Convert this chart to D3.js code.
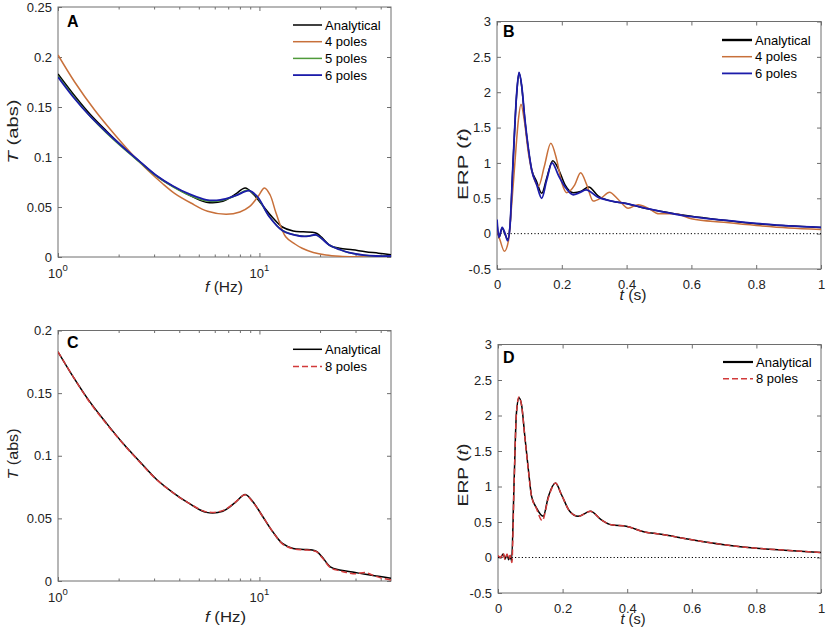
<!DOCTYPE html>
<html>
<head>
<meta charset="utf-8">
<script src="https://cdn.jsdelivr.net/npm/d3@7"></script>
<style>
  body { margin: 0; background: #fff; }
  svg { display: block; font-family: "Liberation Sans", Arial, sans-serif; }
</style>
</head>
<body>
<svg id="fig" width="829" height="631"></svg>
<script>
// ---- DATA ----

// panel A / C : transfer function magnitude vs frequency (Hz)
const fAnalytic = [1, 1.19, 1.44, 1.74, 2.1, 2.55, 3.08, 3.72, 4.5, 5.45, 6.58, 7.6, 8.5, 9.3, 10.4, 11.65, 13.0, 14.7, 16.5, 18.3, 19.3, 20.6, 22.6, 25, 29, 33.6, 39, 45];
const tAnalytic = [0.183, 0.163, 0.143, 0.126, 0.110, 0.0952, 0.0812, 0.0706, 0.0617, 0.0548, 0.0557, 0.0628, 0.069, 0.063, 0.0513, 0.0393, 0.030, 0.026, 0.0252, 0.0248, 0.0235, 0.0187, 0.011, 0.0088, 0.0072, 0.0053, 0.0038, 0.0022];

const fPoles4 = [1, 1.21, 1.52, 1.92, 2.4, 2.8, 3.3, 3.79, 4.57, 5.53, 6.84, 8.0, 8.92, 9.8, 10.6, 11.3, 12.1, 13.5, 15, 16.3, 18.5, 21.4, 25, 30, 45];
const tPoles4 = [0.202, 0.175, 0.147, 0.122, 0.100, 0.0865, 0.0735, 0.0637, 0.054, 0.0457, 0.0427, 0.045, 0.0503, 0.06, 0.069, 0.062, 0.0437, 0.0203, 0.013, 0.0087, 0.0045, 0.002, 0.0008, 0.0003, 0.0001];

const fPoles5 = [1, 1.19, 1.44, 1.74, 2.1, 2.55, 3.08, 3.72, 4.5, 5.45, 6.4, 7.6, 8.7, 9.6, 11.2, 13.0, 15.8, 17.5, 19.1, 20.5, 22.2, 25, 27.9, 33, 38, 45];
const tPoles5 = [0.181, 0.161, 0.141, 0.124, 0.109, 0.0946, 0.0808, 0.0702, 0.0617, 0.056, 0.0562, 0.0612, 0.0668, 0.0615, 0.0405, 0.0265, 0.0212, 0.021, 0.022, 0.018, 0.012, 0.0075, 0.0043, 0.0018, 0.001, 0.001];

const fPoles6 = [1, 1.19, 1.44, 1.74, 2.1, 2.55, 3.08, 3.72, 4.5, 5.45, 6.4, 7.6, 8.9, 9.8, 11.2, 13.0, 15.8, 17.5, 19.1, 20.5, 22.2, 25, 27.9, 33, 38, 45];
const tPoles6 = [0.180, 0.160, 0.141, 0.125, 0.110, 0.0954, 0.0815, 0.071, 0.0628, 0.0572, 0.0572, 0.0613, 0.0663, 0.06, 0.0403, 0.0265, 0.021, 0.0208, 0.0222, 0.018, 0.012, 0.0075, 0.0043, 0.0018, 0.001, 0.001];

const fPoles8 = [1, 1.19, 1.44, 1.74, 2.1, 2.55, 3.08, 3.72, 4.5, 5.45, 6.58, 7.6, 8.5, 9.3, 10.4, 11.65, 13.0, 14.7, 16.5, 18.3, 19.3, 20.6, 22.6, 25, 27, 30, 33.6, 36, 40, 45];
const tPoles8 = [0.183, 0.163, 0.1425, 0.1255, 0.1097, 0.0948, 0.0811, 0.0705, 0.0618, 0.0552, 0.0562, 0.063, 0.0688, 0.0628, 0.0513, 0.0393, 0.0297, 0.0257, 0.0248, 0.0244, 0.0232, 0.0182, 0.0105, 0.0082, 0.0068, 0.0058, 0.0068, 0.005, 0.0025, 0.0008];

// panel B : ERP vs time (s)
const tsAnalyticB = [0, 0.006, 0.016, 0.025, 0.033, 0.04, 0.05, 0.061, 0.068, 0.076, 0.086, 0.097, 0.107, 0.122, 0.138, 0.153, 0.172, 0.19, 0.21, 0.236, 0.26, 0.283, 0.313, 0.354, 0.405, 0.457, 0.5, 0.6, 0.7, 0.8, 0.9, 1.0];
const erpAnalyticB = [0.15, -0.06, 0.08, -0.01, -0.08, 0.1, 1.05, 1.99, 2.27, 2.09, 1.61, 1.19, 0.91, 0.74, 0.57, 0.78, 1.03, 0.91, 0.69, 0.58, 0.6, 0.66, 0.53, 0.46, 0.42, 0.36, 0.32, 0.245, 0.19, 0.14, 0.11, 0.085];

const tsPoles4B = [0, 0.009, 0.023, 0.035, 0.045, 0.056, 0.066, 0.074, 0.084, 0.097, 0.112, 0.128, 0.146, 0.166, 0.184, 0.2, 0.215, 0.24, 0.258, 0.277, 0.297, 0.323, 0.347, 0.375, 0.405, 0.436, 0.47, 0.5, 0.55, 0.6, 0.7, 0.8, 0.9, 1.0];
const erpPoles4B = [0.05, -0.085, -0.25, -0.11, 0.39, 1.05, 1.61, 1.83, 1.61, 1.14, 0.81, 0.67, 0.95, 1.28, 1.05, 0.72, 0.58, 0.69, 0.86, 0.69, 0.46, 0.51, 0.585, 0.48, 0.36, 0.41, 0.35, 0.28, 0.28, 0.21, 0.16, 0.115, 0.08, 0.06];

const tsPoles6B = [0, 0.006, 0.016, 0.025, 0.033, 0.04, 0.05, 0.061, 0.068, 0.076, 0.086, 0.097, 0.107, 0.122, 0.138, 0.153, 0.17, 0.19, 0.21, 0.235, 0.255, 0.275, 0.31, 0.354, 0.405, 0.457, 0.5, 0.6, 0.7, 0.8, 0.9, 1.0];
const erpPoles6B = [0.2, -0.05, 0.09, 0.0, -0.1, 0.1, 1.05, 2.0, 2.28, 2.1, 1.62, 1.2, 0.9, 0.7, 0.5, 0.75, 1.0, 0.82, 0.66, 0.55, 0.58, 0.62, 0.52, 0.46, 0.42, 0.36, 0.32, 0.24, 0.19, 0.145, 0.11, 0.09];

// panel D : ERP vs time (s)
const tsAnalyticD = [0, 0.008, 0.016, 0.022, 0.028, 0.033, 0.037, 0.042, 0.05, 0.057, 0.065, 0.073, 0.083, 0.094, 0.104, 0.119, 0.14, 0.156, 0.178, 0.197, 0.222, 0.248, 0.286, 0.32, 0.351, 0.397, 0.454, 0.5, 0.6, 0.7, 0.8, 0.9, 1.0];
const erpAnalyticD = [0.01, 0.0, 0.05, -0.02, 0.04, -0.03, 0.02, -0.04, 1.09, 2.03, 2.25, 2.15, 1.71, 1.24, 0.86, 0.7, 0.58, 0.86, 1.05, 0.88, 0.65, 0.58, 0.65, 0.53, 0.46, 0.44, 0.36, 0.33, 0.25, 0.18, 0.13, 0.1, 0.07];

const tsPoles8D = [0, 0.008, 0.016, 0.022, 0.028, 0.033, 0.038, 0.043, 0.05, 0.057, 0.065, 0.073, 0.083, 0.094, 0.104, 0.119, 0.137, 0.156, 0.178, 0.197, 0.222, 0.248, 0.286, 0.32, 0.351, 0.397, 0.454, 0.5, 0.6, 0.7, 0.8, 0.9, 1.0];
const erpPoles8D = [0.03, 0.0, 0.06, -0.03, 0.05, -0.02, 0.03, -0.07, 1.06, 2.02, 2.26, 2.14, 1.7, 1.23, 0.86, 0.69, 0.52, 0.84, 1.05, 0.88, 0.65, 0.58, 0.65, 0.53, 0.46, 0.44, 0.36, 0.33, 0.25, 0.18, 0.13, 0.1, 0.07];

// ticks
const freqTicks = [1, 10];
const freqMinor = [2, 3, 4, 5, 6, 7, 8, 9, 20, 30, 40];
const tAbsTicksAB = [0, 0.05, 0.1, 0.15, 0.2, 0.25];
const tAbsTicksC = [0, 0.05, 0.1, 0.15, 0.2];
const timeTicks = [0, 0.2, 0.4, 0.6, 0.8, 1];
const erpTicks = [-0.5, 0, 0.5, 1, 1.5, 2, 2.5, 3];

// ---- SETUP ----
const svg = d3.select("#fig");
const axisGray = "#6e6e6e";
const textCol = "#222";

// colours of the series
const cBlack = "#000000",
  cOrange = "#c8703a",
  cGreen = "#4f9a3a",
  cBlue = "#1c1caa",
  cRed = "#d23a3a";

// squeeze/stretch a label along its reading direction to a given length
function fitLabel(text, cx, cy, length, rotate) {
  const w = text.node().getBBox().width;
  const s = length / w;
  text.attr(
    "transform",
    `translate(${cx},${cy}) ${rotate ? "rotate(-90)" : ""} scale(${s},1)`
  );
}

function drawPanel(p) {
  const x = (p.log ? d3.scaleLog() : d3.scaleLinear())
    .domain(p.xDomain)
    .range([p.left, p.right]);
  const y = d3.scaleLinear().domain(p.yDomain).range([p.bottom, p.top]);

  const g = svg.append("g");

  svg
    .append("clipPath")
    .attr("id", "clip-" + p.id)
    .append("rect")
    .attr("x", p.left)
    .attr("y", p.top)
    .attr("width", p.right - p.left)
    .attr("height", p.bottom - p.top);

  // axes (ticks inside, on all four sides)
  const styleAxis = (sel) => {
    sel.select(".domain").remove();
    sel.selectAll("line").attr("stroke", axisGray);
    sel
      .selectAll("text")
      .attr("fill", textCol)
      .style("font-size", "13px")
      .style("font-family", '"Liberation Sans", Arial, sans-serif');
  };

  g.append("g")
    .attr("transform", `translate(0,${p.bottom})`)
    .call(
      d3
        .axisBottom(x)
        .tickValues(p.xTicks)
        .tickSize(-4)
        .tickSizeOuter(0)
        .tickPadding(11)
        .tickFormat(p.log ? () => "" : (d) => String(d))
    )
    .call(styleAxis);
  g.append("g")
    .attr("transform", `translate(0,${p.top})`)
    .call(d3.axisTop(x).tickValues(p.xTicks).tickSize(-4).tickSizeOuter(0).tickFormat(() => ""))
    .call(styleAxis);
  g.append("g")
    .attr("transform", `translate(${p.left},0)`)
    .call(
      d3
        .axisLeft(y)
        .tickValues(p.yTicks)
        .tickSize(-4)
        .tickSizeOuter(0)
        .tickPadding(6)
        .tickFormat((d) => String(d))
    )
    .call(styleAxis);
  g.append("g")
    .attr("transform", `translate(${p.right},0)`)
    .call(d3.axisRight(y).tickValues(p.yTicks).tickSize(-4).tickSizeOuter(0).tickFormat(() => ""))
    .call(styleAxis);

  if (p.log) {
    // minor ticks
    g.append("g")
      .attr("transform", `translate(0,${p.bottom})`)
      .call(d3.axisBottom(x).tickValues(freqMinor).tickSize(-2.5).tickFormat(() => ""))
      .call(styleAxis);
    g.append("g")
      .attr("transform", `translate(0,${p.top})`)
      .call(d3.axisTop(x).tickValues(freqMinor).tickSize(-2.5).tickFormat(() => ""))
      .call(styleAxis);

    // 10^n labels
    const lab = g
      .selectAll(".loglab")
      .data(p.xTicks)
      .enter()
      .append("text")
      .attr("class", "loglab")
      .attr("x", (d) => x(d))
      .attr("y", p.bottom + 21)
      .attr("text-anchor", "middle")
      .attr("fill", textCol)
      .style("font-size", "13px");
    lab.append("tspan").text("10");
    lab
      .append("tspan")
      .attr("dy", -7)
      .style("font-size", "9.5px")
      .text((d) => String(Math.round(Math.log10(d))));
  }

  // box
  g.append("rect")
    .attr("x", p.left)
    .attr("y", p.top)
    .attr("width", p.right - p.left)
    .attr("height", p.bottom - p.top)
    .attr("fill", "none")
    .attr("stroke", axisGray)
    .attr("stroke-width", 1);

  const plot = g.append("g").attr("clip-path", `url(#clip-${p.id})`);

  if (p.zeroLine) {
    plot
      .append("line")
      .attr("x1", x(p.xDomain[0]))
      .attr("x2", x(p.xDomain[1]))
      .attr("y1", y(0))
      .attr("y2", y(0))
      .attr("stroke", "#000")
      .attr("stroke-width", 1)
      .attr("stroke-dasharray", "1.2,2.2");
  }

  const line = d3
    .line()
    .x((d) => x(d[0]))
    .y((d) => y(d[1]))
    .curve(p.log ? d3.curveCatmullRom.alpha(0.5) : d3.curveMonotoneX);

  p.series.forEach((s) => {
    plot
      .append("path")
      .datum(d3.zip(s.xs, s.ys))
      .attr("d", line)
      .attr("fill", "none")
      .attr("stroke", s.color)
      .attr("stroke-width", s.width)
      .attr("stroke-dasharray", s.dash || null)
      .attr("stroke-linejoin", "round");
  });

  // legend
  p.series.forEach((s, i) => {
    const ly = p.legend.y + i * p.legend.dy;
    g.append("line")
      .attr("x1", p.legend.x1)
      .attr("x2", p.legend.x2)
      .attr("y1", ly)
      .attr("y2", ly)
      .attr("stroke", s.color)
      .attr("stroke-width", s.legendWidth || s.width)
      .attr("stroke-dasharray", s.dash || null);
    g.append("text")
      .attr("x", p.legend.x2 + 3)
      .attr("y", ly)
      .attr("dy", "0.35em")
      .attr("fill", "#000")
      .style("font-size", "13px")
      .text(s.name);
  });

  // panel letter
  g.append("text")
    .attr("x", p.letter.x)
    .attr("y", p.letter.y)
    .attr("fill", "#000")
    .style("font-size", "16px")
    .style("font-weight", "bold")
    .text(p.id);

  // axis titles
  const xl = g
    .append("text")
    .attr("text-anchor", "middle")
    .attr("fill", textCol)
    .style("font-size", "14px");
  p.xLabel.parts.forEach((pt) => {
    xl.append("tspan").style("font-style", pt.it ? "italic" : "normal").text(pt.t);
  });
  fitLabel(xl, p.xLabel.cx, p.xLabel.y, p.xLabel.len, false);

  const yl = g
    .append("text")
    .attr("text-anchor", "middle")
    .attr("fill", textCol)
    .style("font-size", "14px");
  p.yLabel.parts.forEach((pt) => {
    yl.append("tspan").style("font-style", pt.it ? "italic" : "normal").text(pt.t);
  });
  fitLabel(yl, p.yLabel.x, p.yLabel.cy, p.yLabel.len, true);
}

const labelT = [{ t: "T", it: true }, { t: " (abs)" }];
const labelF = [{ t: "f", it: true }, { t: " (Hz)" }];
const labelERP = [{ t: "ERP (" }, { t: "t", it: true }, { t: ")" }];
const labelTime = [{ t: "t", it: true }, { t: " (s)" }];

drawPanel({
  id: "A",
  log: true,
  xDomain: [1, 45],
  yDomain: [0, 0.25],
  left: 58, right: 391, top: 7, bottom: 257,
  xTicks: freqTicks,
  yTicks: tAbsTicksAB,
  series: [
    { name: "Analytical", xs: fAnalytic, ys: tAnalytic, color: cBlack, width: 1.5 },
    { name: "4 poles", xs: fPoles4, ys: tPoles4, color: cOrange, width: 1.5 },
    { name: "5 poles", xs: fPoles5, ys: tPoles5, color: cGreen, width: 1.5 },
    { name: "6 poles", xs: fPoles6, ys: tPoles6, color: cBlue, width: 1.8 },
  ],
  legend: { x1: 293, x2: 322, y: 25, dy: 16.7 },
  letter: { x: 67, y: 27 },
  xLabel: { parts: labelF, cx: 224, y: 292, len: 38 },
  yLabel: { parts: labelT, x: 18, cy: 131.5, len: 64 },
});

drawPanel({
  id: "B",
  log: false,
  xDomain: [0, 1],
  yDomain: [-0.5, 3],
  left: 497, right: 821, top: 21.5, bottom: 269,
  xTicks: timeTicks,
  yTicks: erpTicks,
  zeroLine: true,
  series: [
    { name: "Analytical", xs: tsAnalyticB, ys: erpAnalyticB, color: cBlack, width: 1.5, legendWidth: 2.4 },
    { name: "4 poles", xs: tsPoles4B, ys: erpPoles4B, color: cOrange, width: 1.5 },
    { name: "6 poles", xs: tsPoles6B, ys: erpPoles6B, color: cBlue, width: 1.8 },
  ],
  legend: { x1: 722, x2: 752, y: 40, dy: 16.7 },
  letter: { x: 503, y: 37 },
  xLabel: { parts: labelTime, cx: 633, y: 300, len: 27 },
  yLabel: { parts: labelERP, x: 468, cy: 164, len: 72 },
});

drawPanel({
  id: "C",
  log: true,
  xDomain: [1, 45],
  yDomain: [0, 0.2],
  left: 58, right: 391, top: 330.5, bottom: 581,
  xTicks: freqTicks,
  yTicks: tAbsTicksC,
  series: [
    { name: "Analytical", xs: fAnalytic, ys: tAnalytic, color: cBlack, width: 1.5 },
    { name: "8 poles", xs: fPoles8, ys: tPoles8, color: cRed, width: 1.5, dash: "6,3" },
  ],
  legend: { x1: 293, x2: 322, y: 349.3, dy: 17.2 },
  letter: { x: 67, y: 348 },
  xLabel: { parts: labelF, cx: 225.5, y: 622, len: 41 },
  yLabel: { parts: labelT, x: 18, cy: 454, len: 51 },
});

drawPanel({
  id: "D",
  log: false,
  xDomain: [0, 1],
  yDomain: [-0.5, 3],
  left: 498, right: 821, top: 344.5, bottom: 593,
  xTicks: timeTicks,
  yTicks: erpTicks,
  zeroLine: true,
  series: [
    { name: "Analytical", xs: tsAnalyticD, ys: erpAnalyticD, color: cBlack, width: 1.5, legendWidth: 2.2 },
    { name: "8 poles", xs: tsPoles8D, ys: erpPoles8D, color: cRed, width: 1.5, dash: "6,3" },
  ],
  legend: { x1: 723, x2: 753, y: 362, dy: 16.7 },
  letter: { x: 503, y: 363 },
  xLabel: { parts: labelTime, cx: 633, y: 624, len: 25 },
  yLabel: { parts: labelERP, x: 468, cy: 475, len: 63 },
});
</script>
</body>
</html>
